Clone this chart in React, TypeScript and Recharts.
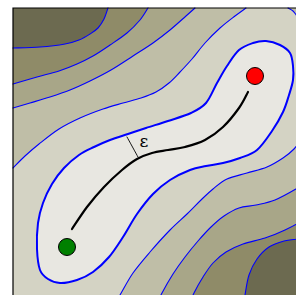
import React from 'react';
import { ScatterChart, Scatter, XAxis, YAxis, CartesianGrid } from 'recharts';

type P = { x: number; y: number };
type Pair = [number, number];

// contour levels, darkest to lightest
const levelColors = ['#6c6a50', '#8f8b68', '#a8a688', '#bfbea7', '#d4d3c4', '#e8e7e1'];

// top-left family of contours (top edge -> left edge)
const tl1: Pair[] = [[95, 300], [91, 289], [85, 280], [77, 274], [66, 268], [52, 264], [27, 261], [0, 260]];
const tl2: Pair[] = [[135, 300], [127, 288], [114, 275], [97, 263], [80, 252], [64, 244], [46, 237], [24, 231], [0, 224]];
const tl3: Pair[] = [[182, 300], [173, 292], [157, 278], [140, 265], [120, 252], [98, 238], [77, 227], [57, 218], [37, 211], [17, 205], [0, 200]];
const tl4: Pair[] = [[233, 300], [222, 292], [207, 280], [192, 265], [179, 249], [167, 236], [156, 225], [143, 216], [128, 210], [110, 205], [90, 199], [67, 190], [46, 179], [26, 164], [12, 152], [0, 140]];
// small piece in the top-right corner
const tr4: Pair[] = [[275, 300], [280, 297], [284, 292], [290, 285], [300, 276]];

// bottom-right family (bottom edge -> right edge)
const br1: Pair[] = [[230, 0], [232, 13], [236, 33], [244, 49], [256, 61], [271, 67], [285, 69], [300, 71]];
const br2: Pair[] = [[175, 0], [181, 15], [190, 31], [200, 45], [213, 56], [230, 64], [252, 70], [272, 78], [300, 93]];
const br3: Pair[] = [[142, 0], [149, 15], [160, 34], [172, 51], [185, 67], [198, 81], [211, 92], [226, 100], [243, 103], [262, 108], [283, 119], [300, 130]];
const br4: Pair[] = [[99, 0], [107, 13], [120, 35], [137, 56], [157, 78], [174, 94], [188, 108], [200, 119], [214, 129], [234, 135], [254, 141], [270, 150], [281, 159], [289, 170], [300, 188]];

// innermost closed contour
const blob: Pair[] = [
  [240, 265], [226, 258], [214, 242], [204, 225], [193, 205], [178, 195], [155, 187], [133, 180],
  [115, 174], [97, 168], [81, 161], [66, 153], [51, 140], [39, 124], [30, 105], [25, 85], [24, 59], [27, 38],
  [35, 29], [47, 25], [64, 28], [80, 36], [96, 51], [110, 71], [124, 94], [140, 114], [157, 128], [177, 138],
  [193, 142], [210, 145], [227, 150], [244, 158], [259, 177], [270, 196], [276, 213], [280, 228], [280, 242],
  [277, 255], [267, 263], [253, 267],
];

// minimum path between the two points
const path: Pair[] = [[59, 79], [74, 101], [91, 121], [109, 138], [124, 149], [139, 155], [155, 158], [172, 161], [192, 168], [210, 181], [226, 200], [235, 216]];
const epsTick: Pair[] = [[114, 171], [125, 151]];
const epsLabel: Pair = [131, 167];
const startPt: Pair = [54, 61];
const endPt: Pair = [242, 232];

const cornerTL: Pair = [0, 300];
const cornerTR: Pair = [300, 300];
const cornerBR: Pair = [300, 0];
const frame: Pair[] = [[0, 0], [0, 300], [300, 300], [300, 0], [0, 0]];

const pts = (a: Pair[]): P[] => a.map(([x, y]) => ({ x, y }));

// catmull-rom through the screen points handed over by the scatter
function smooth(p: P[], closed: boolean) {
  const n = p.length;
  const get = (i: number) => (closed ? p[(i + n) % n] : p[Math.max(0, Math.min(n - 1, i))]);
  let d = `M${p[0].x},${p[0].y}`;
  const segs = closed ? n : n - 1;
  for (let i = 0; i < segs; i++) {
    const p0 = get(i - 1), p1 = get(i), p2 = get(i + 1), p3 = get(i + 2);
    const c1x = p1.x + (p2.x - p0.x) / 6, c1y = p1.y + (p2.y - p0.y) / 6;
    const c2x = p2.x - (p3.x - p1.x) / 6, c2y = p2.y - (p3.y - p1.y) / 6;
    d += ` C${c1x},${c1y} ${c2x},${c2y} ${p2.x},${p2.y}`;
  }
  return closed ? d + 'Z' : d;
}

const noDot = () => <g />;

const region = (color: string) => (props: any) => {
  const p: P[] = props.points;
  const c = p[p.length - 1];
  return <path d={`${smooth(p.slice(0, -1), false)} L${c.x},${c.y} Z`} fill={color} stroke="none" />;
};

const stroke = (color: string, width: number, closed = false) => (props: any) => (
  <path d={smooth(props.points, closed)} fill="none" stroke={color} strokeWidth={width} strokeLinecap="round" />
);

const dot = (fill: string) => (props: any) => (
  <circle cx={props.cx} cy={props.cy} r={8.5} fill={fill} stroke="#000" strokeWidth={1} />
);

const fills: { data: Pair[]; corner: Pair; color: string }[] = [
  { data: tl4, corner: cornerTL, color: levelColors[3] },
  { data: tl3, corner: cornerTL, color: levelColors[2] },
  { data: tl2, corner: cornerTL, color: levelColors[1] },
  { data: tl1, corner: cornerTL, color: levelColors[0] },
  { data: br4, corner: cornerBR, color: levelColors[3] },
  { data: br3, corner: cornerBR, color: levelColors[2] },
  { data: br2, corner: cornerBR, color: levelColors[1] },
  { data: br1, corner: cornerBR, color: levelColors[0] },
  { data: tr4, corner: cornerTR, color: levelColors[3] },
];

const lines = [tl1, tl2, tl3, tl4, tr4, br1, br2, br3, br4];

export default function App() {
  return (
    <div style={{ position: 'fixed', left: 0, top: 0, width: 296, height: 295, overflow: 'hidden', background: '#fff' }}>
      <ScatterChart width={323} height={318} margin={{ top: 8, left: 13, right: 10, bottom: 10 }}>
        <CartesianGrid horizontal={false} vertical={false} fill={levelColors[4]} />
        <XAxis type="number" dataKey="x" domain={[0, 300]} hide />
        <YAxis type="number" dataKey="y" domain={[0, 300]} hide />
        {fills.map((f, i) => (
          <Scatter key={'f' + i} data={pts([...f.data, f.corner])} line={region(f.color)} lineType="joint" shape={noDot} isAnimationActive={false} />
        ))}
        <Scatter data={pts(blob)} line={(p: any) => <path d={smooth(p.points, true)} fill={levelColors[5]} stroke="#0000ff" strokeWidth={2} />} lineType="joint" shape={noDot} isAnimationActive={false} />
        {lines.map((l, i) => (
          <Scatter key={'l' + i} data={pts(l)} line={stroke('#0000ff', 1.1)} lineType="joint" shape={noDot} isAnimationActive={false} />
        ))}
        <Scatter data={pts(path)} line={stroke('#000', 2.2)} lineType="joint" shape={noDot} isAnimationActive={false} />
        <Scatter data={pts(epsTick)} line={stroke('#000', 0.9)} lineType="joint" shape={noDot} isAnimationActive={false} />
        <Scatter
          data={pts([epsLabel])}
          shape={(p: any) => (
            <text x={p.cx} y={p.cy} textAnchor="middle" dominantBaseline="central" fontFamily="DejaVu Serif" fontSize={17} fill="#000">
              ε
            </text>
          )}
          isAnimationActive={false}
        />
        <Scatter data={pts([endPt])} shape={dot('#ff0000')} isAnimationActive={false} />
        <Scatter data={pts([startPt])} shape={dot('#008000')} isAnimationActive={false} />
        <Scatter data={pts(frame)} line={{ stroke: '#000', strokeWidth: 1.2, fill: 'none' }} lineType="joint" lineJointType="linear" shape={noDot} isAnimationActive={false} />
      </ScatterChart>
    </div>
  );
}
